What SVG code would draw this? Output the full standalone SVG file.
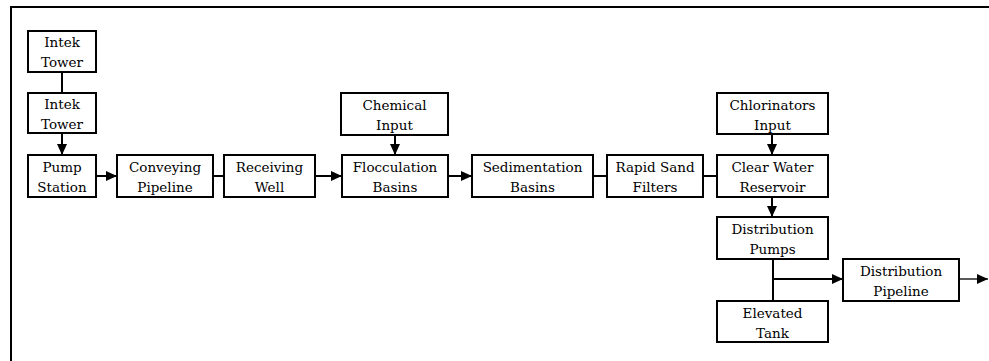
<svg xmlns="http://www.w3.org/2000/svg" width="989" height="361" viewBox="0 0 989 361">
<style>
.box{fill:#fff;stroke:#000;stroke-width:2}
text{font-family:"DejaVu Serif",serif;font-size:13.5px;fill:#000;text-anchor:middle}
.c{stroke:#000;stroke-width:2;fill:none}
.thin{stroke:#000;stroke-width:1.3;fill:none}
</style>
<defs>
<marker id="ah" markerUnits="userSpaceOnUse" markerWidth="12" markerHeight="10" refX="11" refY="5" orient="auto">
<path d="M0,0 L11,5 L0,10 Z" fill="#000"/>
</marker>
</defs>
<rect width="989" height="361" fill="#fff"/>
<g id="frame">
<path class="c" d="M11,361 V7 H989"/>
</g>
<g id="connectors">
<line class="c" x1="62" y1="72" x2="62" y2="93"/>
<line class="c" x1="62" y1="133" x2="62" y2="155" marker-end="url(#ah)"/>
<line class="c" x1="96" y1="176" x2="117" y2="176" marker-end="url(#ah)"/>
<line class="c" x1="213" y1="176" x2="224" y2="176"/>
<line class="c" x1="315" y1="176" x2="342" y2="176" marker-end="url(#ah)"/>
<line class="c" x1="395" y1="135" x2="395" y2="155" marker-end="url(#ah)"/>
<line class="c" x1="448" y1="176" x2="472" y2="176" marker-end="url(#ah)"/>
<line class="c" x1="593" y1="176" x2="607" y2="176"/>
<line class="c" x1="703" y1="176" x2="717" y2="176"/>
<line class="c" x1="772" y1="134" x2="772" y2="155" marker-end="url(#ah)"/>
<line class="c" x1="772" y1="197" x2="772" y2="217" marker-end="url(#ah)"/>
<line class="c" x1="773" y1="259" x2="773" y2="301"/>
<line class="c" x1="773" y1="279" x2="843" y2="279" marker-end="url(#ah)"/>
<line class="thin" x1="959" y1="279" x2="988" y2="279" marker-end="url(#ah)"/>
</g>
<g id="intek1"><rect class="box" x="28" y="31" width="68" height="41"/><text x="62" y="47">Intek</text><text x="62" y="67">Tower</text></g>
<g id="intek2"><rect class="box" x="28" y="93" width="68" height="40"/><text x="62" y="109">Intek</text><text x="62" y="129">Tower</text></g>
<g id="pump"><rect class="box" x="28" y="155" width="68" height="42"/><text x="62" y="172">Pump</text><text x="62" y="192">Station</text></g>
<g id="conveying"><rect class="box" x="117" y="155" width="96" height="42"/><text x="165" y="172">Conveying</text><text x="165" y="192">Pipeline</text></g>
<g id="receiving"><rect class="box" x="224" y="155" width="91" height="42"/><text x="269.5" y="172">Receiving</text><text x="269.5" y="192">Well</text></g>
<g id="chemical"><rect class="box" x="341" y="93" width="107" height="42"/><text x="394.5" y="110">Chemical</text><text x="394.5" y="130">Input</text></g>
<g id="flocculation"><rect class="box" x="342" y="155" width="106" height="42"/><text x="395" y="172">Flocculation</text><text x="395" y="192">Basins</text></g>
<g id="sedimentation"><rect class="box" x="472" y="155" width="121" height="42"/><text x="532.5" y="172">Sedimentation</text><text x="532.5" y="192">Basins</text></g>
<g id="rapid"><rect class="box" x="607" y="155" width="96" height="42"/><text x="655" y="172">Rapid Sand</text><text x="655" y="192">Filters</text></g>
<g id="chlorinators"><rect class="box" x="717" y="93" width="111" height="41"/><text x="772.5" y="110">Chlorinators</text><text x="772.5" y="130">Input</text></g>
<g id="clearwater"><rect class="box" x="717" y="155" width="111" height="42"/><text x="772.5" y="172">Clear Water</text><text x="772.5" y="192">Reservoir</text></g>
<g id="distpumps"><rect class="box" x="717" y="217" width="111" height="42"/><text x="772.5" y="234">Distribution</text><text x="772.5" y="254">Pumps</text></g>
<g id="elevated"><rect class="box" x="717" y="301" width="111" height="41"/><text x="772.5" y="318">Elevated</text><text x="772.5" y="338">Tank</text></g>
<g id="distpipe"><rect class="box" x="843" y="259" width="116" height="42"/><text x="901" y="276">Distribution</text><text x="901" y="296">Pipeline</text></g>
</svg>
